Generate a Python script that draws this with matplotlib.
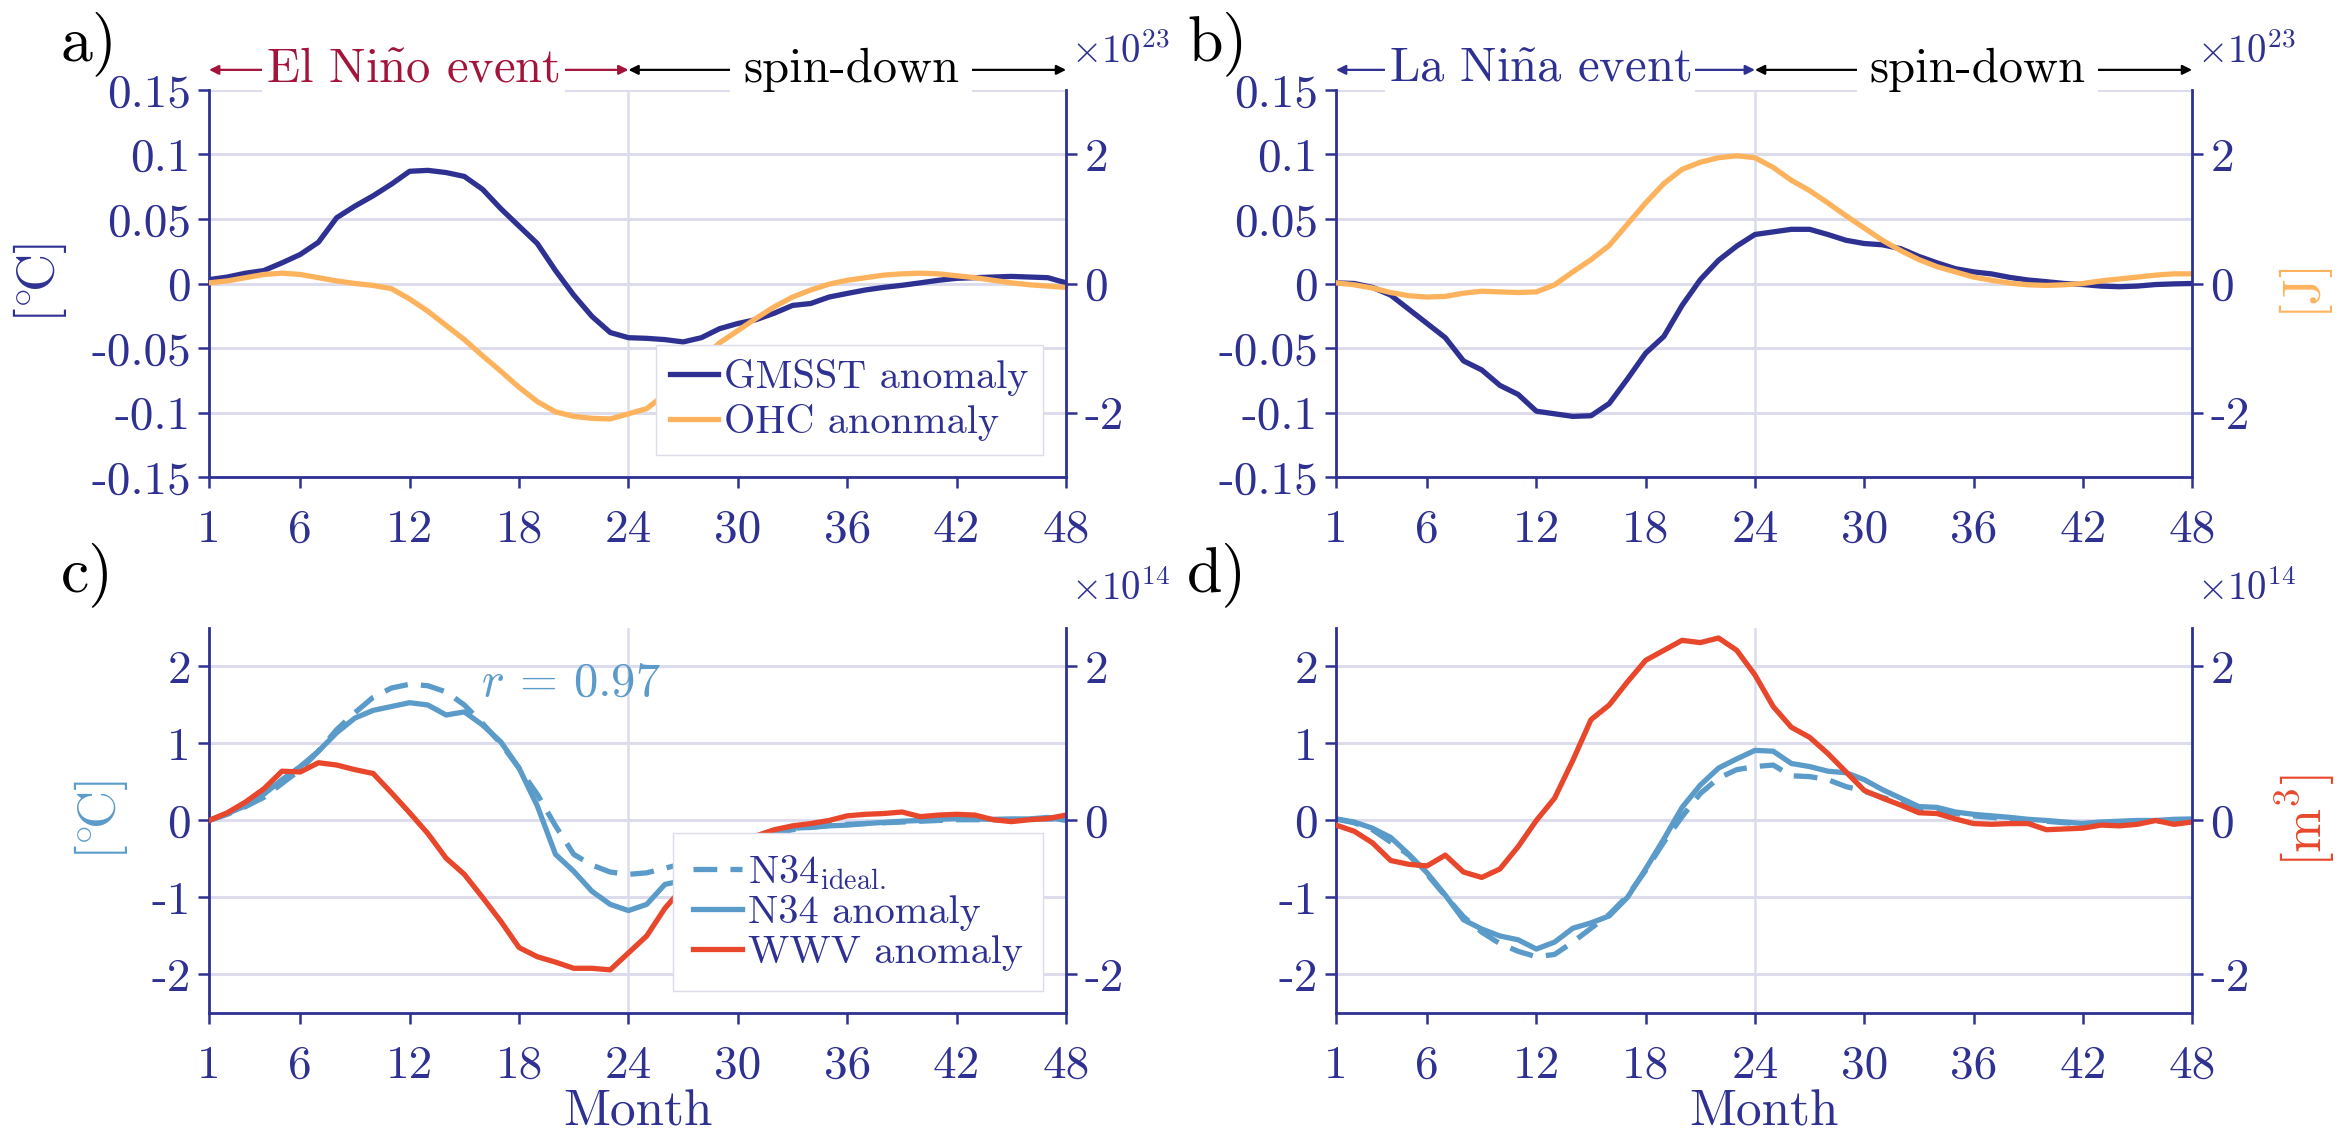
import numpy as np
import matplotlib
matplotlib.use('Agg')
import matplotlib.pyplot as plt

plt.rcParams['font.family'] = ['cmr10', 'DejaVu Serif']
plt.rcParams['mathtext.fontset'] = 'cm'
plt.rcParams['axes.unicode_minus'] = False
plt.rcParams['axes.formatter.use_mathtext'] = True

# ---- data ----
months = np.arange(1, 49)
xticks = [1, 6, 12, 18, 24, 30, 36, 42, 48]

gmsst_nino = [0.003, 0.005, 0.008, 0.010, 0.016, 0.0225, 0.032, 0.051, 0.060, 0.068,
              0.077, 0.087, 0.0877, 0.086, 0.083, 0.073, 0.058, 0.0445, 0.031, 0.010,
              -0.009, -0.0255, -0.038, -0.042, -0.0425, -0.0435, -0.0453, -0.042, -0.035, -0.031,
              -0.028, -0.023, -0.017, -0.0155, -0.0105, -0.0077, -0.005, -0.003, -0.0014, 0.0005,
              0.0025, 0.004, 0.0045, 0.005, 0.0055, 0.005, 0.0045, 0.0005]
ohc_nino = [0.01, 0.04, 0.09, 0.14, 0.16, 0.14, 0.09, 0.04, 0.0, -0.03,
            -0.08, -0.24, -0.43, -0.65, -0.87, -1.12, -1.36, -1.61, -1.83, -1.99,
            -2.06, -2.09, -2.10, -2.02, -1.94, -1.72, -1.45, -1.17, -0.92, -0.73,
            -0.54, -0.36, -0.21, -0.10, -0.01, 0.05, 0.09, 0.13, 0.15, 0.16,
            0.15, 0.12, 0.09, 0.05, 0.01, -0.02, -0.04, -0.06]

gmsst_nina = [0.0005, 0, -0.003, -0.009, -0.020, -0.031, -0.042, -0.060, -0.067, -0.079,
              -0.086, -0.099, -0.101, -0.103, -0.1025, -0.093, -0.074, -0.054, -0.041, -0.017,
              0.003, 0.018, 0.029, 0.038, 0.040, 0.042, 0.042, 0.038, 0.0335, 0.031,
              0.030, 0.027, 0.021, 0.016, 0.0115, 0.009, 0.0074, 0.0047, 0.0027, 0.0014,
              0, -0.0008, -0.002, -0.0025, -0.002, -0.0008, -0.0003, 0]
ohc_nina = [0.01, -0.02, -0.07, -0.14, -0.19, -0.21, -0.20, -0.15, -0.12, -0.13,
            -0.14, -0.13, -0.02, 0.18, 0.37, 0.59, 0.92, 1.25, 1.55, 1.77,
            1.88, 1.95, 1.98, 1.95, 1.80, 1.60, 1.44, 1.25, 1.05, 0.86,
            0.67, 0.51, 0.37, 0.26, 0.18, 0.10, 0.05, 0.005, -0.02, -0.03,
            -0.02, 0, 0.04, 0.07, 0.10, 0.13, 0.15, 0.15]

n34_nino = [0, 0.09, 0.19, 0.34, 0.53, 0.70, 0.90, 1.14, 1.33, 1.43,
            1.48, 1.53, 1.50, 1.37, 1.41, 1.24, 1.02, 0.68, 0.19, -0.44,
            -0.66, -0.92, -1.09, -1.17, -1.09, -0.83, -0.78, -0.65, -0.50, -0.35,
            -0.25, -0.15, -0.10, -0.09, -0.07, -0.06, -0.04, -0.025, -0.01, 0,
            0.015, 0.025, 0.02, 0.015, 0.02, 0.02, 0.04, 0]
n34i_nino = [0, 0.08, 0.18, 0.30, 0.48, 0.66, 0.90, 1.18, 1.40, 1.60,
             1.72, 1.77, 1.75, 1.67, 1.50, 1.26, 1.00, 0.68, 0.34, -0.07,
             -0.44, -0.58, -0.67, -0.70, -0.68, -0.62, -0.56, -0.48, -0.40, -0.32,
             -0.24, -0.17, -0.12, -0.09, -0.06, -0.05, -0.04, -0.03, -0.02, -0.01,
             0, 0.01, 0.01, 0.01, 0.01, 0.02, 0.02, 0.01]
wwv_nino = [0, 0.10, 0.24, 0.41, 0.64, 0.63, 0.75, 0.72, 0.66, 0.61,
            0.36, 0.10, -0.17, -0.49, -0.70, -1.0, -1.31, -1.65, -1.77, -1.84,
            -1.92, -1.92, -1.94, -1.72, -1.50, -1.14, -0.87, -0.65, -0.45, -0.30,
            -0.20, -0.12, -0.07, -0.04, 0, 0.06, 0.08, 0.09, 0.11, 0.05,
            0.07, 0.08, 0.07, 0.01, -0.015, 0.01, 0.025, 0.07]

n34_nina = [0.02, -0.02, -0.10, -0.22, -0.44, -0.68, -0.97, -1.29, -1.41, -1.50,
            -1.55, -1.67, -1.58, -1.40, -1.33, -1.24, -1.0, -0.63, -0.24, 0.17,
            0.46, 0.68, 0.80, 0.91, 0.90, 0.74, 0.70, 0.64, 0.62, 0.53,
            0.40, 0.29, 0.18, 0.17, 0.11, 0.08, 0.06, 0.04, 0.015, 0,
            -0.02, -0.04, -0.02, -0.01, 0, 0, 0.015, 0.02]
n34i_nina = [0.02, -0.03, -0.12, -0.28, -0.45, -0.70, -0.98, -1.25, -1.45, -1.60,
             -1.70, -1.77, -1.74, -1.58, -1.40, -1.22, -0.98, -0.65, -0.28, 0.05,
             0.35, 0.55, 0.66, 0.70, 0.72, 0.58, 0.57, 0.53, 0.44, 0.38,
             0.30, 0.23, 0.16, 0.13, 0.09, 0.06, 0.04, 0.02, 0, -0.01,
             -0.03, -0.04, -0.03, -0.03, -0.02, -0.01, -0.01, 0]
wwv_nina = [-0.06, -0.14, -0.29, -0.52, -0.57, -0.59, -0.45, -0.67, -0.74, -0.63,
            -0.34, 0.0, 0.29, 0.78, 1.31, 1.50, 1.80, 2.08, 2.21, 2.34,
            2.31, 2.37, 2.21, 1.89, 1.48, 1.21, 1.08, 0.87, 0.63, 0.39,
            0.29, 0.20, 0.10, 0.09, 0.02, -0.04, -0.05, -0.04, -0.04, -0.12,
            -0.11, -0.10, -0.06, -0.07, -0.05, 0, -0.05, -0.02]

top_yticks = [-0.15, -0.1, -0.05, 0, 0.05, 0.1, 0.15]
top_ylabels = ['-0.15', '-0.1', '-0.05', '0', '0.05', '0.1', '0.15']
bot_yticks = [-2, -1, 0, 1, 2]

# colours
NAVY = '#2e3192'
ORANGE = '#fdb35e'
LBLUE = '#5b9bc9'
RED = '#e8472b'
DRED = '#a3143a'
GRID = '#dcdcec'

LW = 3.8
FS = 34


def style_axes(ax, axr, ylim, yticks, ylabels, rlim, rticks, rlabels):
    ax.set_xlim(1, 48)
    ax.set_ylim(*ylim)
    ax.set_xticks(xticks)
    ax.set_xticklabels([str(t) for t in xticks])
    ax.set_yticks(yticks)
    ax.set_yticklabels(ylabels)
    axr.set_ylim(*rlim)
    axr.set_yticks(rticks)
    axr.set_yticklabels(rlabels)
    for a in (ax, axr):
        a.spines['top'].set_visible(False)
        for s in ('left', 'right', 'bottom'):
            a.spines[s].set_color(NAVY)
            a.spines[s].set_linewidth(2.0)
        a.tick_params(colors=NAVY, labelsize=FS, length=8, width=1.8, direction='out')
    ax.tick_params(axis='x', pad=15)
    ax.tick_params(axis='y', pad=5)
    axr.tick_params(axis='y', pad=5)
    axr.spines['left'].set_visible(False)
    axr.spines['bottom'].set_visible(False)
    ax.spines['right'].set_visible(False)
    # grid lines + the month-24 divider
    ax.grid(axis='y', color=GRID, linewidth=2.2)
    ax.axvline(24, color=GRID, linewidth=1.8, zorder=0.5)
    ax.set_axisbelow(True)


def add_phase_arrows(ax, event_text, event_color):
    tr = ax.get_xaxis_transform()
    yy = 1.052
    for (x0, x1, col) in [(1, 24, event_color), (24, 48, 'black')]:
        ax.annotate('', xy=(x0, yy), xytext=(x1, yy), xycoords=tr, textcoords=tr,
                    arrowprops=dict(arrowstyle='<|-|>', color=col, lw=1.6,
                                    mutation_scale=14, shrinkA=0, shrinkB=0),
                    annotation_clip=False)
    ax.text(12.2, yy, event_text, transform=tr, color=event_color, fontsize=35,
            ha='center', va='center', bbox=dict(facecolor='white', edgecolor='none', pad=3))
    ax.text(36.2, yy, 'spin-down', transform=tr, color='black', fontsize=35,
            ha='center', va='center', bbox=dict(facecolor='white', edgecolor='none', pad=9))


def add_legend(axr, handles, spacing, bpad):
    axr.legend(handles=handles, loc='lower right', bbox_to_anchor=(0.973, 0.057),
               borderaxespad=0, fontsize=29, fancybox=False, edgecolor=GRID, framealpha=1,
               handlelength=1.2, handletextpad=0.15, labelspacing=spacing, borderpad=bpad,
               labelcolor=NAVY)


fig = plt.figure(figsize=(23.41, 11.42), dpi=100)

pos = {
    'a': [0.0893, 0.5823, 0.3661, 0.3389],
    'b': [0.5707, 0.5823, 0.3657, 0.3389],
    'c': [0.0893, 0.1130, 0.3661, 0.3371],
    'd': [0.5707, 0.1130, 0.3657, 0.3371],
}
degC = r'$[^{\circ}\!\mathrm{C}]$'

# ---- a) El Nino: GMSST / OHC ----
ax = fig.add_axes(pos['a'])
axr = ax.twinx()
style_axes(ax, axr, (-0.15, 0.15), top_yticks, top_ylabels, (-3, 3), [-2, 0, 2], ['-2', '0', '2'])
l1, = ax.plot(months, gmsst_nino, color=NAVY, lw=LW, label='GMSST anomaly')
l2, = axr.plot(months, ohc_nino, color=ORANGE, lw=LW, label='OHC anonmaly')
ax.set_ylabel(degC, color=NAVY, fontsize=38)
ax.yaxis.set_label_coords(-0.163, 0.5)
add_legend(axr, [l1, l2], 0.2, 0.35)
axr.text(1.006, 1.10, r'$\times10^{23}$', transform=axr.transAxes, color=NAVY, fontsize=28,
         ha='left', va='center')
add_phase_arrows(ax, r'El Ni$\tilde{\mathrm{n}}$o event', DRED)

# ---- b) La Nina: GMSST / OHC ----
ax = fig.add_axes(pos['b'])
axr = ax.twinx()
style_axes(ax, axr, (-0.15, 0.15), top_yticks, top_ylabels, (-3, 3), [-2, 0, 2], ['-2', '0', '2'])
ax.plot(months, gmsst_nina, color=NAVY, lw=LW)
axr.plot(months, ohc_nina, color=ORANGE, lw=LW)
axr.set_ylabel('[J]', color=ORANGE, fontsize=38, rotation=90)
axr.yaxis.set_label_coords(1.095, 0.5)
axr.text(1.006, 1.10, r'$\times10^{23}$', transform=axr.transAxes, color=NAVY, fontsize=28,
         ha='left', va='center')
add_phase_arrows(ax, r'La Ni$\tilde{\mathrm{n}}$a event', NAVY)

# ---- c) El Nino: N34 / WWV ----
ax = fig.add_axes(pos['c'])
axr = ax.twinx()
style_axes(ax, axr, (-2.5, 2.5), bot_yticks, ['-2', '-1', '0', '1', '2'], (-2.5, 2.5), [-2, 0, 2], ['-2', '0', '2'])
l1, = ax.plot(months, n34i_nino, color=LBLUE, lw=LW, dashes=(4.5, 2.5), label=r'N34$_{\rm ideal.}$')
l2, = ax.plot(months, n34_nino, color=LBLUE, lw=LW, label='N34 anomaly')
l3, = axr.plot(months, wwv_nino, color=RED, lw=LW, label='WWV anomaly')
ax.text(15.9, 1.78, r'$r$ = 0.97', color=LBLUE, fontsize=35, ha='left', va='center')
ax.set_ylabel(degC, color=LBLUE, fontsize=38)
ax.yaxis.set_label_coords(-0.092, 0.5)
ax.set_xlabel('Month', color=NAVY, fontsize=37, labelpad=2)
add_legend(axr, [l1, l2, l3], 0.08, 0.5)
axr.text(1.006, 1.10, r'$\times10^{14}$', transform=axr.transAxes, color=NAVY, fontsize=28,
         ha='left', va='center')

# ---- d) La Nina: N34 / WWV ----
ax = fig.add_axes(pos['d'])
axr = ax.twinx()
style_axes(ax, axr, (-2.5, 2.5), bot_yticks, ['-2', '-1', '0', '1', '2'], (-2.5, 2.5), [-2, 0, 2], ['-2', '0', '2'])
ax.plot(months, n34i_nina, color=LBLUE, lw=LW, dashes=(4.5, 2.5))
ax.plot(months, n34_nina, color=LBLUE, lw=LW)
axr.plot(months, wwv_nina, color=RED, lw=LW)
axr.set_ylabel(r'[m$^3$]', color=RED, fontsize=38, rotation=90)
axr.yaxis.set_label_coords(1.095, 0.5)
ax.set_xlabel('Month', color=NAVY, fontsize=37, labelpad=2)
axr.text(1.006, 1.10, r'$\times10^{14}$', transform=axr.transAxes, color=NAVY, fontsize=28,
         ha='left', va='center')

# panel letters
for lab, (x, y) in {'a)': (0.026, 0.962), 'b)': (0.507, 0.962),
                    'c)': (0.026, 0.497), 'd)': (0.507, 0.497)}.items():
    fig.text(x, y, lab, fontsize=46, color='black', ha='left', va='center')

plt.savefig('out.png', dpi=100)
